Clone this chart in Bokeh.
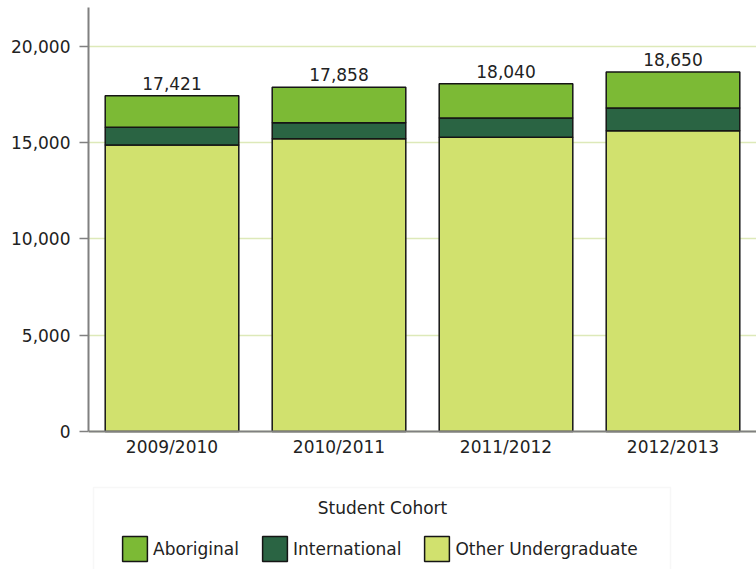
from bokeh.plotting import figure
from bokeh.models import (ColumnDataSource, Legend, LegendItem, Label, NumeralTickFormatter,
                          FixedTicker, Range1d, BoxAnnotation)
from bokeh.embed import file_html
from bokeh.resources import INLINE
from bokeh.core.properties import value

years = ["2009/2010", "2010/2011", "2011/2012", "2012/2013"]
other_undergraduate = [14870, 15190, 15265, 15605]
international = [915, 830, 1000, 1180]
aboriginal = [1636, 1838, 1775, 1865]
totals = [17421, 17858, 18040, 18650]
total_labels = ["17,421", "17,858", "18,040", "18,650"]
y_ticks = [0, 5000, 10000, 15000, 20000]

FONT = "DejaVu Sans"
TXT = "#222222"

src = ColumnDataSource(dict(
    year=years,
    other=other_undergraduate,
    international=international,
    aboriginal=aboriginal,
    total=totals,
    label=total_labels,
))

# lower part of the frame holds the legend (below the zero line)
p = figure(x_range=years, y_range=Range1d(-7162, 22000), width=756, height=569,
           output_backend="svg", toolbar_location=None,
           min_border_left=88, min_border_right=0, min_border_top=7, min_border_bottom=0)

rs = p.vbar_stack(["other", "international", "aboriginal"], x="year", width=0.8,
                  color=["#d1e16e", "#2a6443", "#7cba35"],
                  line_color="#151515", line_width=1.5, source=src)

p.text(x="year", y="total", text="label", source=src, text_align="center",
       text_baseline="bottom", y_offset=-6, text_font=value(FONT),
       text_font_size="17px", text_color=TXT)

p.outline_line_color = None
p.xgrid.grid_line_color = None
p.ygrid.grid_line_color = "#dde9b9"
p.ygrid.grid_line_width = 1.5
p.ygrid.ticker = FixedTicker(ticks=y_ticks)

p.yaxis.ticker = FixedTicker(ticks=y_ticks)
p.yaxis.formatter = NumeralTickFormatter(format="0,0")
p.yaxis.bounds = (0, 22000)
p.yaxis.major_tick_out = 9
p.yaxis.major_tick_in = 0
p.yaxis.minor_tick_line_color = None
p.yaxis.major_label_standoff = 9
for ax in (p.xaxis[0], p.yaxis[0]):
    ax.axis_line_color = "#808080"
    ax.axis_line_width = 2
    ax.major_tick_line_color = "#808080"
    ax.major_tick_line_width = 1.5
    ax.major_label_text_font = FONT
    ax.major_label_text_font_size = "17px"
    ax.major_label_text_color = TXT
p.xaxis.fixed_location = 0
p.xaxis.major_tick_out = 0
p.xaxis.major_tick_in = 0
p.xaxis.major_label_standoff = 6

# legend frame (encloses the legend title and the items)
p.add_layout(BoxAnnotation(left=5, right=582, top=82, bottom=-10,
                           left_units="screen", right_units="screen",
                           top_units="screen", bottom_units="screen",
                           fill_alpha=0, line_color="#e6e6e6", line_width=1.5))

p.add_layout(Label(x=294, y=62, x_units="screen", y_units="screen", text="Student Cohort",
                   text_align="center", text_baseline="middle", text_font=FONT,
                   text_font_size="17px", text_color=TXT))

legend = Legend(items=[LegendItem(label="Aboriginal", renderers=[rs[2]]),
                       LegendItem(label="International", renderers=[rs[1]]),
                       LegendItem(label="Other Undergraduate", renderers=[rs[0]])],
                orientation="horizontal", location=(31, 5), margin=0, padding=6,
                spacing=20, glyph_width=31, glyph_height=31, label_standoff=3,
                label_text_font=FONT, label_text_font_size="17px",
                label_text_color=TXT, border_line_color=None,
                background_fill_alpha=0)
p.add_layout(legend, "center")

open("out.html", "w").write(file_html(p, INLINE))
